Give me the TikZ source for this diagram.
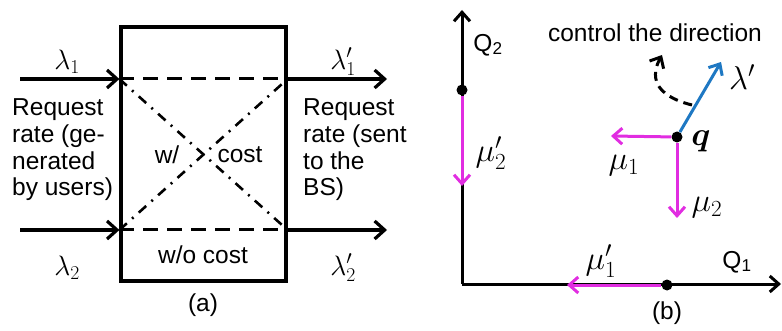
\RequirePackage{fix-cm}
\documentclass[tikz,border=0pt]{standalone}
\usepackage{amsmath}
\usepackage{fontspec}
\setmainfont{Liberation Sans}
\usetikzlibrary{positioning,arrows.meta}
\definecolor{RateMagenta}{RGB}{225,45,225}
\definecolor{RateBlue}{RGB}{30,120,195}

\begin{document}
\begin{tikzpicture}[x=1pt,y=-1pt,
	every node/.style={font=\fontsize{24.5}{26.7}\selectfont},
	biglbl/.style={font=\fontsize{33}{35}\selectfont},
	flow/.style={-{Straight Barb[length=10pt,width=18pt]},line width=3.2pt},
	axis/.style={-{Straight Barb[length=9pt,width=16pt]},line width=3pt},
	serve/.style={-{Straight Barb[length=9pt,width=16pt]},line width=3pt,RateMagenta},
	dot/.style={circle,fill,inner sep=0pt,minimum size=11pt}]
	\useasboundingbox (0,0) rectangle (782,331);
	
	% (a) request rates
	\node[
	draw,
	line width=3.2pt,
	inner sep=0pt,
	minimum width=165pt,
	minimum height=254pt
	]
	(box) at (203.5,154) {};
	
	\coordinate (in1) at (20,79);
	\coordinate (in2) at (20,230);
	\coordinate (out1) at (387,79);
	\coordinate (out2) at (387,230);
	\coordinate (a1) at (box.west |- in1);
	\coordinate (a2) at (box.west |- in2);
	\coordinate (b1) at (box.east |- in1);
	\coordinate (b2) at (box.east |- in2);
	
	\draw[flow] (in1) -- (a1);
	\draw[flow] (in2) -- (a2);
	\draw[flow] (b1) -- (out1);
	\draw[flow] (b2) -- (out2);
	\draw[line width=3pt,dash pattern=on 15pt off 9pt] (a1) -- (b1);
	\draw[line width=3pt,dash pattern=on 15pt off 9pt] (a2) -- (b2);
	\draw[line width=2.6pt,dash pattern=on 10pt off 7pt on 2pt off 7pt] (a1) -- (b2);
	\draw[line width=2.6pt,dash pattern=on 10pt off 7pt on 2pt off 7pt] (a2) -- (b1);
	
	\node[font=\fontsize{28}{30}\selectfont] (l1) at (67,62) {$\lambda_1$};
	\node[font=\fontsize{28}{30}\selectfont] (l2) at (67,268) {$\lambda_2$};
	\node[font=\fontsize{28}{30}\selectfont] (l1p) at (343,62) {$\lambda_1'$};
	\node[font=\fontsize{28}{30}\selectfont] (l2p) at (343,268) {$\lambda_2'$};
	\node[align=left,anchor=west,inner sep=0pt] (src) at (12,150) {Request\\rate (ge-\\nerated\\by users)};
	\node[align=left,anchor=west,inner sep=0pt] (dst) at (303,150) {Request\\rate (sent\\to the\\BS)};
	\node (wc) at (167,155) {w/};
	\node (cost) at (240,155) {cost};
	\node (wo) at (203,255) {w/o cost};
	\node (pa) at (203,305) {(a)};
	
	% (b) queue state
	\coordinate (O) at (462,284);
	\coordinate (ytop) at (462,10);
	\coordinate (xend) at (781,284);
	\draw[axis] (O) -- (ytop);
	\draw[axis] (O) -- (xend);
	
	\node[dot] (p2) at (462,90) {};
	\node[dot] (p1) at (667,285) {};
	\node[dot] (q) at (677,137) {};
	\coordinate (m2end) at (462,186);
	\coordinate (m1end) at (567,285);
	\coordinate (u1end) at (611,136);
	\coordinate (u2end) at (677,218);
	\coordinate (lend) at (721,62);
	
	\draw[serve] (p2) -- (m2end);
	\draw[serve] (p1) -- (m1end);
	\draw[serve] (q) -- (u1end);
	\draw[serve] (q) -- (u2end);
	\draw[axis,RateBlue] (q) -- (lend);
	
	\coordinate (cs) at (692,105);
	\coordinate (ce) at (662,55);
	\draw[axis,dash pattern=on 9pt off 6pt] (cs) .. controls (652,95) and (651,75) .. (ce);
	
	\node (q2) at (488,45) {Q\textsubscript{2}};
	\node (q1) at (737,262) {Q\textsubscript{1}};
	\node[biglbl] (mu2p) at (491,153) {$\mu_2'$};
	\node[biglbl] (mu1p) at (601,261) {$\mu_1'$};
	\node[biglbl] (mu1) at (624,166) {$\mu_1$};
	\node[biglbl] (mu2) at (707,208) {$\mu_2$};
	\node[biglbl] (lam) at (742,77) {$\lambda'$};
	\node[biglbl] (qlbl) at (701,141) {$\boldsymbol{q}$};
	\node (ctl) at (655,33) {control the direction};
	\node (pb) at (667,313) {(b)};
	
\end{tikzpicture}
\end{document}
